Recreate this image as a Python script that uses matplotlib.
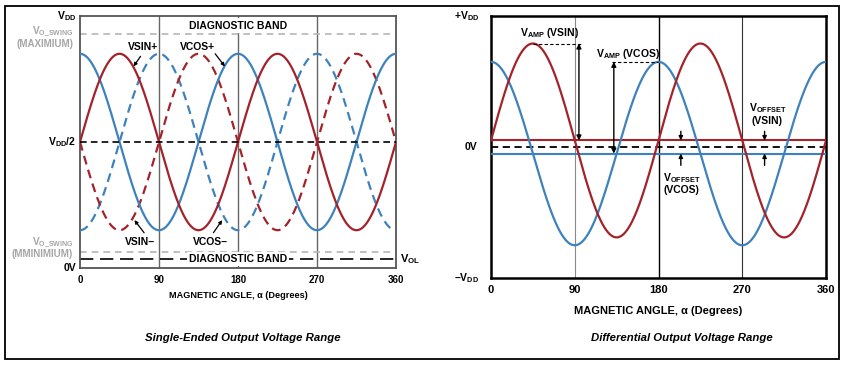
import numpy as np
import matplotlib
matplotlib.use("Agg")
import matplotlib.pyplot as plt
from matplotlib.patches import Rectangle
from matplotlib import font_manager as fm

# ---------------- data ----------------
x_ticks = [0, 90, 180, 270, 360]
x_tick_labels = ["0", "90", "180", "270", "360"]
angle_deg = np.linspace(0, 360, 721)

# single-ended (normalised: 0V = 0, VDD = 1)
se_mid = 0.5                 # VDD/2
se_amp = 0.35                # sine amplitude
se_cycles = 2                # electrical cycles per 360 deg of magnetic angle
se_swing_max = 0.929         # VO_SWING (maximum)
se_swing_min = 0.065         # VO_SWING (minimum)
se_vol = 0.037               # VOL
se_grid = [90, 180, 270]

# differential (normalised: -VDD = -1, +VDD = 1)
diff_sin_offset = 0.05
diff_sin_amp = 0.74
diff_cos_offset = -0.05
diff_cos_amp = 0.70
diff_grid = [90, 180, 270]

RED = "#A3232B"
BLUE = "#3E82BD"
GRAY_TXT = "#A6A6A6"

fonts = fm.fontManager.ttflist
avail = {f.name for f in fonts}
SANS = "Liberation Sans" if "Liberation Sans" in avail else "DejaVu Sans"

# caption font: prefer a narrow face
cap_kw = dict(family=SANS, style="italic", fontweight="bold", fontsize=8.2)
if "Liberation Sans Narrow" in avail:
    cap_kw = dict(family="Liberation Sans Narrow", style="italic", fontweight="bold",
                  fontsize=9.5)

plt.rcParams["font.family"] = [SANS, "DejaVu Sans"]
plt.rcParams["mathtext.fontset"] = "custom"
plt.rcParams["mathtext.rm"] = SANS + ":bold"
plt.rcParams["mathtext.bf"] = SANS + ":bold"
plt.rcParams["mathtext.it"] = SANS + ":bold"
plt.rcParams["mathtext.default"] = "rm"

W, H = 848, 372
fig = plt.figure(figsize=(W / 100, H / 100), dpi=100)


def px_axes(l, t, r, b):
    return fig.add_axes([l / W, (H - b) / H, (r - l) / W, (b - t) / H])


# outer frame
fig.patches.append(Rectangle((5 / W, 13 / H), 834 / W, 353 / H, transform=fig.transFigure,
                             fill=False, lw=1.3, ec="black"))

# ======================= left: single-ended =======================
ax = px_axes(80, 16, 396, 268)
ax.set_xlim(0, 360)
ax.set_ylim(0, 1)
th = np.deg2rad(angle_deg * se_cycles)
vsin_p = se_mid + se_amp * np.sin(th)
vsin_n = se_mid - se_amp * np.sin(th)
vcos_p = se_mid + se_amp * np.cos(th)
vcos_n = se_mid - se_amp * np.cos(th)

for g in se_grid:
    ax.axvline(g, color="#666666", lw=1.0, zorder=1)
ax.axhline(se_swing_max, color="#B5B5B5", lw=1.2, dashes=(4, 3), zorder=1)
ax.axhline(se_swing_min, color="#B5B5B5", lw=1.2, dashes=(4, 3), zorder=1)
ax.axhline(se_vol, color="black", lw=1.2, dashes=(8, 4), zorder=1)

ax.plot(angle_deg, vcos_n, color=BLUE, lw=1.6, dashes=(4, 2.5), zorder=3)
ax.plot(angle_deg, vsin_n, color=RED, lw=1.6, dashes=(4, 2.5), zorder=3)
ax.plot(angle_deg, vcos_p, color=BLUE, lw=1.6, zorder=3)
ax.plot(angle_deg, vsin_p, color=RED, lw=1.6, zorder=3)
ax.axhline(se_mid, color="black", lw=1.2, dashes=(4, 2.5), zorder=4)

box = dict(facecolor="white", edgecolor="none", pad=1.5)
ax.text(180, 0.962, "DIAGNOSTIC BAND", ha="center", va="center", fontsize=7.5,
        fontweight="bold", bbox=box, zorder=5)
ax.text(180, se_vol, "DIAGNOSTIC BAND", ha="center", va="center", fontsize=7.5,
        fontweight="bold", bbox=box, zorder=5)

arr = dict(arrowstyle="-|>", lw=0.9, color="black", mutation_scale=5, shrinkA=0, shrinkB=0)
ax.text(72, 0.875, "VSIN+", ha="center", va="center", fontsize=7.5, fontweight="bold", zorder=6)
ax.annotate("", xy=(61, 0.80), xytext=(69, 0.84), arrowprops=arr, zorder=6)
ax.text(134, 0.875, "VCOS+", ha="center", va="center", fontsize=7.5, fontweight="bold", zorder=6)
ax.annotate("", xy=(165, 0.80), xytext=(154, 0.85), arrowprops=arr, zorder=6)
ax.text(68, 0.103, "VSIN–", ha="center", va="center", fontsize=7.5, fontweight="bold", zorder=6)
ax.annotate("", xy=(62, 0.19), xytext=(73, 0.14), arrowprops=arr, zorder=6)
ax.text(149, 0.103, "VCOS–", ha="center", va="center", fontsize=7.5, fontweight="bold", zorder=6)
ax.annotate("", xy=(162, 0.19), xytext=(152, 0.14), arrowprops=arr, zorder=6)

for s in ax.spines.values():
    s.set_color("#555555")
    s.set_linewidth(1.3)
ax.set_xticks(x_ticks)
ax.set_xticklabels(x_tick_labels, fontsize=7, fontweight="bold")
ax.tick_params(axis="x", length=0, pad=5)
ax.set_yticks([])
ax.set_xlabel("MAGNETIC ANGLE, α (Degrees)", fontsize=6.6, fontweight="bold", labelpad=4)

yt = ax.get_yaxis_transform()
ax.text(-0.012, 1.0, r"V$_{DD}$", transform=yt, ha="right", va="center", fontsize=7.5,
        fontweight="bold")
ax.text(-0.022, 0.93, r"V$_{O\_SWING}$", transform=yt, ha="right", va="baseline",
        fontsize=7.2, fontweight="bold", color=GRAY_TXT)
ax.text(-0.022, 0.877, "(MAXIMIUM)", transform=yt, ha="right", va="baseline",
        fontsize=7, fontweight="bold", color=GRAY_TXT)
ax.text(-0.012, se_mid, r"V$_{DD}$/2", transform=yt, ha="right", va="center",
        fontsize=7.5, fontweight="bold")
ax.text(-0.022, 0.092, r"V$_{O\_SWING}$", transform=yt, ha="right", va="baseline",
        fontsize=7.2, fontweight="bold", color=GRAY_TXT)
ax.text(-0.022, 0.042, "(MMINIMIUM)", transform=yt, ha="right", va="baseline",
        fontsize=7, fontweight="bold", color=GRAY_TXT)
ax.text(-0.012, 0.0, "0V", transform=yt, ha="right", va="center", fontsize=7.5,
        fontweight="bold")
ax.text(1.012, se_vol, r"V$_{OL}$", transform=yt, ha="left", va="center", fontsize=8,
        fontweight="bold")

fig.text(243 / W, (H - 338) / H, "Single-Ended Output Voltage Range", ha="center",
         va="center", **cap_kw)

# ======================= right: differential =======================
bx = px_axes(491, 16, 826, 278)
bx.set_xlim(0, 360)
bx.set_ylim(-1, 1)
dsin = diff_sin_offset + diff_sin_amp * np.sin(th)
dcos = diff_cos_offset + diff_cos_amp * np.cos(th)

bx.axvline(diff_grid[0], color="#8A8A8A", lw=0.8, zorder=1)
bx.axvline(diff_grid[1], color="black", lw=1.0, zorder=1)
bx.axvline(diff_grid[2], color="#333333", lw=0.8, zorder=1)
bx.axhline(0, color="black", lw=1.3, dashes=(4, 2.5), zorder=2)
bx.axhline(diff_sin_offset, color=RED, lw=1.5, zorder=3)
bx.axhline(diff_cos_offset, color=BLUE, lw=1.5, zorder=3)
bx.plot(angle_deg, dcos, color=BLUE, lw=1.6, zorder=3)
bx.plot(angle_deg, dsin, color=RED, lw=1.6, zorder=3)

sin_peak = diff_sin_offset + diff_sin_amp
cos_peak = diff_cos_offset + diff_cos_amp
bx.plot([45, 97], [sin_peak, sin_peak], color="black", lw=0.8, dashes=(3, 2), zorder=4)
bx.plot([130, 179], [cos_peak, cos_peak], color="black", lw=0.8, dashes=(3, 2), zorder=4)
darr = dict(arrowstyle="<|-|>", lw=1.0, color="black", mutation_scale=7, shrinkA=0, shrinkB=0)
bx.annotate("", xy=(94.5, sin_peak), xytext=(94.5, diff_sin_offset), arrowprops=darr, zorder=5)
bx.annotate("", xy=(132, cos_peak), xytext=(132, diff_cos_offset), arrowprops=darr, zorder=5)
bx.text(63, 0.87, r"V$_{AMP}$ (VSIN)", ha="center", va="center", fontsize=7.5,
        fontweight="bold")
bx.text(147, 0.71, r"V$_{AMP}$ (VCOS)", ha="center", va="center", fontsize=7.5,
        fontweight="bold")

sarr = dict(arrowstyle="-|>", lw=1.0, color="black", mutation_scale=6, shrinkA=0, shrinkB=0)
for xo in (204, 294):
    bx.annotate("", xy=(xo, diff_sin_offset), xytext=(xo, 0.12), arrowprops=sarr, zorder=5)
    bx.annotate("", xy=(xo, diff_cos_offset), xytext=(xo, -0.14), arrowprops=sarr, zorder=5)
bx.text(297, 0.30, r"V$_{OFFSET}$", ha="center", va="center", fontsize=7.5, fontweight="bold")
bx.text(297, 0.20, "(VSIN)", ha="center", va="center", fontsize=7.5, fontweight="bold")
bx.text(205, -0.235, r"V$_{OFFSET}$", ha="center", va="center", fontsize=7.5, fontweight="bold")
bx.text(205, -0.33, "(VCOS)", ha="center", va="center", fontsize=7.5, fontweight="bold")

for s in bx.spines.values():
    s.set_color("black")
    s.set_linewidth(1.8)
bx.set_xticks(x_ticks)
bx.set_xticklabels(x_tick_labels, fontsize=8, fontweight="bold")
bx.tick_params(axis="x", length=0, pad=5)
bx.set_yticks([])
bx.set_xlabel("MAGNETIC ANGLE, α (Degrees)", fontsize=8, fontweight="bold", labelpad=8)

yt2 = bx.get_yaxis_transform()
bx.text(-0.035, 1.0, r"+V$_{DD}$", transform=yt2, ha="right", va="center", fontsize=7.5,
        fontweight="bold")
bx.text(-0.04, 0.0, "0V", transform=yt2, ha="right", va="center", fontsize=7.5,
        fontweight="bold")
bx.text(-0.035, -1.0, r"–V$_{DD}$", transform=yt2, ha="right", va="center", fontsize=7.5,
        fontweight="bold")

fig.text(682 / W, (H - 338) / H, "Differential Output Voltage Range", ha="center",
         va="center", **cap_kw)

fig.savefig("out.png", dpi=100)
